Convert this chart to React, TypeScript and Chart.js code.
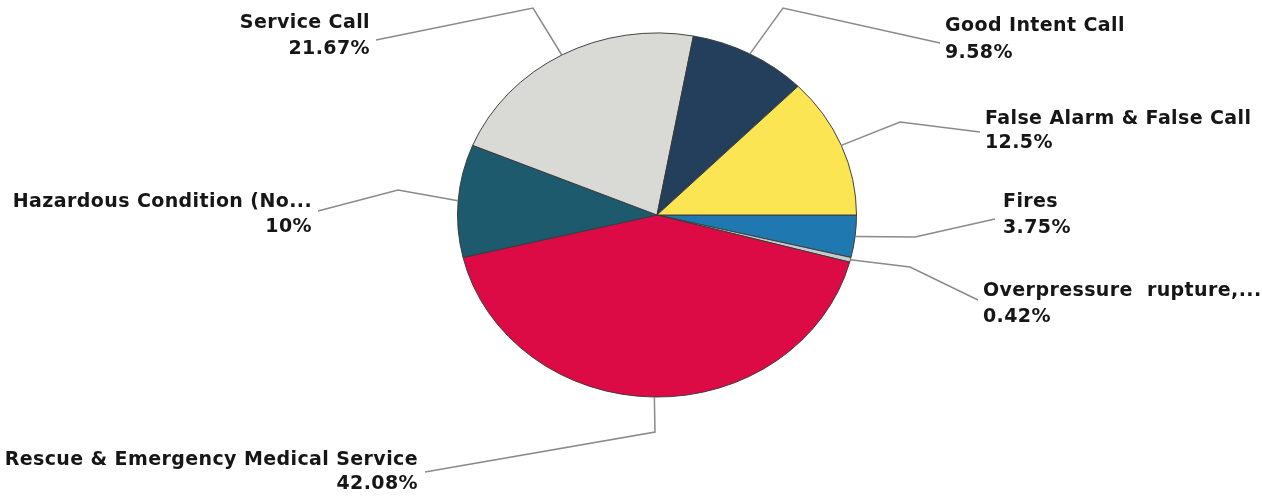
import React, { useEffect, useRef } from "react";
import { Chart, registerables } from "chart.js";

Chart.register(...registerables);

// Data (clockwise from 3 o'clock)
const categories = [
  "Fires",
  "Overpressure  rupture,...",
  "Rescue & Emergency Medical Service",
  "Hazardous Condition (No...",
  "Service Call",
  "Good Intent Call",
  "False Alarm & False Call",
];
const percentValues = [3.75, 0.42, 42.08, 10, 21.67, 9.58, 12.5];
const sliceColors = ["#1f78b0", "#c4ccce", "#dc0a45", "#1d5a6e", "#d9d9d6", "#243f5c", "#fbe552"];

// Label layout: elbow point, end of leader, text anchor, alignment, line centres
const labelLayout = [
  { elbow: [915, 237], end: [995, 219], tx: 1003, align: "left", y1: 202, y2: 228 },
  { elbow: [910, 267], end: [978, 300], tx: 983, align: "left", y1: 291, y2: 317 },
  { elbow: [655, 432], end: [425, 472], tx: 418, align: "right", y1: 460, y2: 484 },
  { elbow: [398, 190], end: [318, 211], tx: 312, align: "right", y1: 202, y2: 227 },
  { elbow: [533, 8], end: [376, 40], tx: 370, align: "right", y1: 23, y2: 49 },
  { elbow: [783, 8], end: [940, 43], tx: 945, align: "left", y1: 26, y2: 53 },
  { elbow: [900, 122], end: [980, 132], tx: 985, align: "left", y1: 119, y2: 143 },
];

const Y_SCALE = 0.9125;

const squashPlugin = {
  id: "squash",
  beforeDatasetsDraw(chart: any) {
    const meta = chart.getDatasetMeta(0);
    const arc = meta.data[0];
    const { x, y } = arc;
    const ctx = chart.ctx;
    ctx.save();
    ctx.translate(x, y);
    ctx.scale(1, Y_SCALE);
    ctx.translate(-x, -y);
  },
  afterDatasetsDraw(chart: any) {
    chart.ctx.restore();
  },
};

const labelPlugin = {
  id: "leaderLabels",
  afterDraw(chart: any) {
    const ctx = chart.ctx;
    const meta = chart.getDatasetMeta(0);
    meta.data.forEach((arc: any, i: number) => {
      const mid = (arc.startAngle + arc.endAngle) / 2;
      const r = arc.outerRadius;
      const sx = arc.x + Math.cos(mid) * r;
      const sy = arc.y + Math.sin(mid) * r * Y_SCALE;
      const L = labelLayout[i];
      ctx.save();
      ctx.strokeStyle = "#8a8a8a";
      ctx.lineWidth = 1.5;
      ctx.beginPath();
      ctx.moveTo(sx, sy);
      ctx.lineTo(L.elbow[0], L.elbow[1]);
      ctx.lineTo(L.end[0], L.end[1]);
      ctx.stroke();
      ctx.fillStyle = "#161616";
      ctx.font = 'bold 19px "DejaVu Sans", sans-serif';
      (ctx as any).letterSpacing = "0.4px";
      ctx.textAlign = L.align;
      ctx.textBaseline = "middle";
      ctx.fillText(categories[i], L.tx, L.y1);
      ctx.fillText(`${percentValues[i]}%`, L.tx, L.y2);
      ctx.restore();
    });
  },
};

export default function App() {
  const ref = useRef<HTMLCanvasElement | null>(null);
  useEffect(() => {
    if (!ref.current) return;
    const chart = new Chart(ref.current, {
      type: "pie",
      data: {
        labels: categories,
        datasets: [
          {
            data: percentValues,
            backgroundColor: sliceColors,
            borderColor: "#3a3a3a",
            borderWidth: 1,
          },
        ],
      },
      options: {
        responsive: false,
        animation: false,
        rotation: 90,
        layout: { padding: { left: 457, right: 405, top: 15, bottom: 82 } },
        plugins: {
          legend: { display: false },
          tooltip: { enabled: false },
        },
      },
      plugins: [squashPlugin, labelPlugin],
    });
    return () => chart.destroy();
  }, []);
  return (
    <div style={{ position: "fixed", left: 0, top: 0, width: 1262, height: 497, background: "#fff" }}>
      <canvas ref={ref} width={1262} height={497} />
    </div>
  );
}
